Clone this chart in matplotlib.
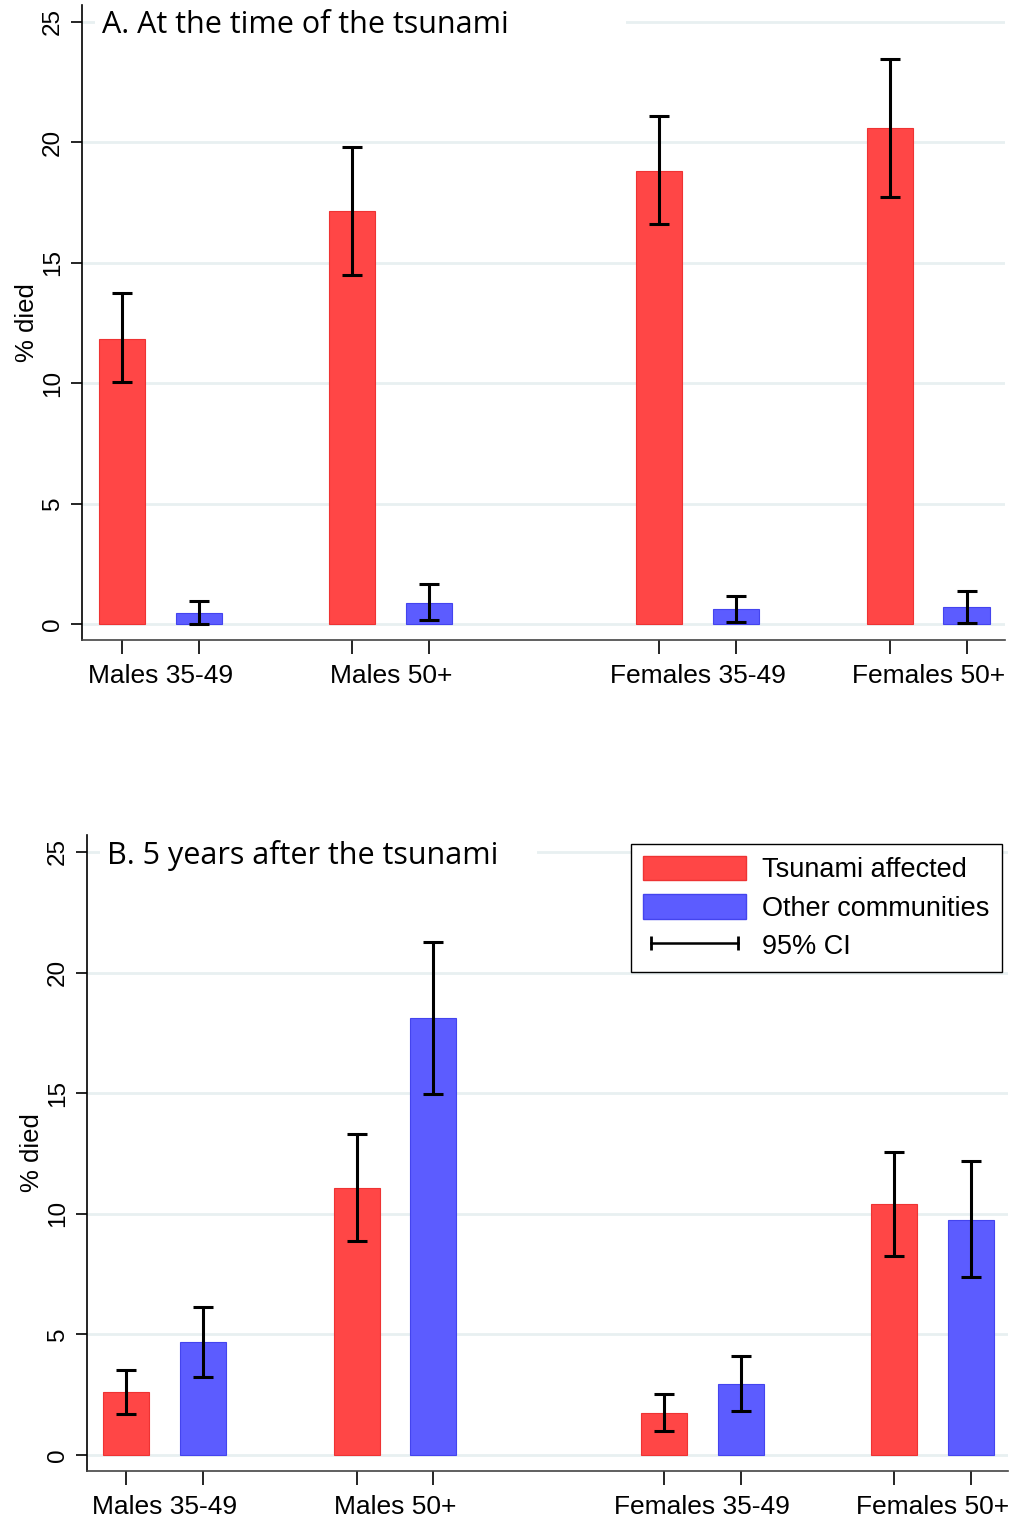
import numpy as np
import matplotlib.pyplot as plt
import matplotlib.transforms as mtransforms
from matplotlib.patches import Patch
from matplotlib.lines import Line2D

groups = ["Males 35-49", "Males 50+", "Females 35-49", "Females 50+"]

## panel A: at the time of the tsunami
a_tsu = [11.85, 17.15, 18.8, 20.6]
a_tsu_lo = [10.05, 14.5, 16.6, 17.75]
a_tsu_hi = [13.75, 19.8, 21.1, 23.45]
a_oth = [0.46, 0.87, 0.62, 0.7]
a_oth_lo = [0.0, 0.15, 0.1, 0.03]
a_oth_hi = [0.96, 1.65, 1.15, 1.36]

## panel B: 5 years after
b_tsu = [2.6, 11.07, 1.74, 10.41]
b_tsu_lo = [1.7, 8.87, 1.0, 8.25]
b_tsu_hi = [3.52, 13.3, 2.53, 12.56]
b_oth = [4.68, 18.12, 2.94, 9.74]
b_oth_lo = [3.23, 14.97, 1.82, 7.38]
b_oth_hi = [6.14, 21.27, 4.1, 12.19]

RED = "#ff4646"
BLUE = "#5c5cff"
GRID = "#e8f0f1"
FONT = "Liberation Sans"

# bar slots: pairs with a wider gap between sexes
red_x = np.array([0, 3, 7, 10])
blue_x = red_x + 1
w = 0.6


def draw_panel(ax, tsu, tlo, thi, oth, olo, ohi, title, xlim, title_pad):
    ax.set_axisbelow(True)
    for v in range(0, 30, 5):
        ax.axhline(v, color=GRID, lw=2, zorder=0)
    ax.bar(red_x, tsu, w, color=RED, edgecolor="#ee3333", lw=0.8, zorder=2)
    ax.bar(blue_x, oth, w, color=BLUE, edgecolor="#4444ee", lw=0.8, zorder=2)
    tsu, oth = np.array(tsu), np.array(oth)
    ax.errorbar(red_x, tsu, yerr=[tsu - np.array(tlo), np.array(thi) - tsu],
                fmt="none", ecolor="black", elinewidth=2.2, capsize=7, capthick=2.2, zorder=3)
    ax.errorbar(blue_x, oth, yerr=[oth - np.array(olo), np.array(ohi) - oth],
                fmt="none", ecolor="black", elinewidth=2.2, capsize=7, capthick=2.2, zorder=3)

    ax.set_xlim(*xlim)
    ax.set_ylim(-0.66, 25.7)
    ax.set_yticks(range(0, 30, 5))
    ax.set_yticklabels([str(v) for v in range(0, 30, 5)], rotation=90, va="center",
                       fontsize=17.5, family=FONT)
    ax.tick_params(axis="y", length=8, width=1.2, pad=5)
    ax.set_xticks(np.concatenate([red_x, blue_x]))
    ax.set_xticklabels([])
    ax.set_xticks((red_x + blue_x) / 2, minor=True)
    ax.set_xticklabels(groups, minor=True, fontsize=19, family=FONT)
    ax.tick_params(axis="x", which="major", length=10, width=1.2)
    ax.tick_params(axis="x", which="minor", length=0, pad=17)
    ax.set_ylabel("% died", fontsize=18.5, family=FONT, labelpad=2)
    for s in ["top", "right"]:
        ax.spines[s].set_visible(False)
    ax.spines["left"].set_linewidth(1.2)
    ax.spines["bottom"].set_linewidth(1.2)
    ax.spines["bottom"].set_color("#444444")
    # title sits on the 25 gridline, masking it with a white box
    trans = mtransforms.blended_transform_factory(ax.transAxes, ax.transData)
    ax.text(0.022, 24.85, title + title_pad, transform=trans, fontsize=22, family="Open Sans",
            va="center", ha="left", zorder=5,
            bbox=dict(facecolor="white", edgecolor="none", pad=5))


fig = plt.figure(figsize=(10.13, 15.19), dpi=100)
ax1 = fig.add_axes([0.081, 0.5787, 0.911, 0.418])
ax2 = fig.add_axes([0.0859, 0.0316, 0.909, 0.4187])

draw_panel(ax1, a_tsu, a_tsu_lo, a_tsu_hi, a_oth, a_oth_lo, a_oth_hi,
           "A. At the time of the tsunami", (-0.52, 11.5), "              ")
draw_panel(ax2, b_tsu, b_tsu_lo, b_tsu_hi, b_oth, b_oth_lo, b_oth_hi,
           "B. 5 years after the tsunami", (-0.51, 11.48), "    ")

handles = [Patch(facecolor=RED, edgecolor="#ee3333"),
           Patch(facecolor=BLUE, edgecolor="#4444ee"),
           Line2D([0, 1], [0, 0], color="black", lw=1.8, marker="|", markersize=10,
                  markeredgewidth=2)]
leg = ax2.legend(handles, ["Tsunami affected", "Other communities", "95% CI"],
                 loc="upper right", bbox_to_anchor=(0.9935, 0.986), numpoints=2,
                 prop={"family": FONT, "size": 19.5},
                 frameon=True, fancybox=False, edgecolor="black", framealpha=1,
                 handlelength=3.8, handleheight=1.0, borderpad=0.45, labelspacing=0.4,
                 handletextpad=0.6, borderaxespad=0)
leg.get_frame().set_linewidth(1.0)

fig.savefig("out.png", dpi=100)
